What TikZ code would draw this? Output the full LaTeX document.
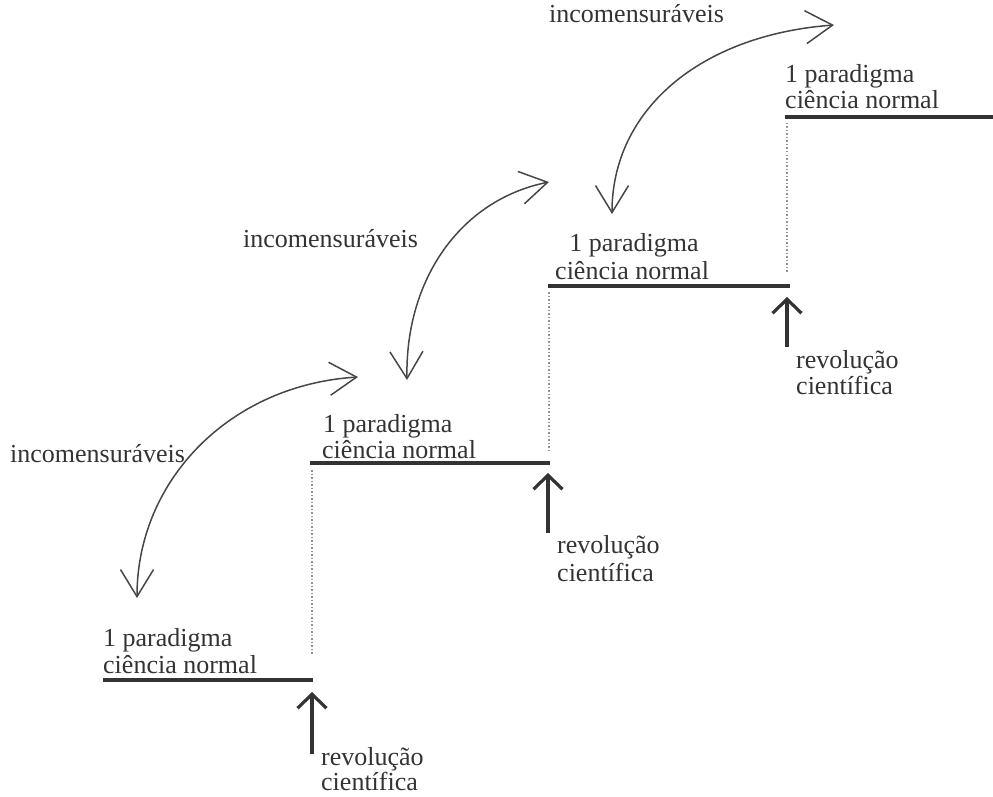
\documentclass[tikz,border=0pt]{standalone}
\usepackage{fontspec}
\setmainfont{Liberation Serif}
\usetikzlibrary{arrows.meta}
\definecolor{ink}{HTML}{333333}
\begin{document}
\begin{tikzpicture}[x=1pt,y=-1pt,
  lbl/.style={anchor=base west,inner sep=0pt,text=ink,font=\fontsize{26}{28}\selectfont},
  clbl/.style={anchor=base,inner sep=0pt,text=ink,font=\fontsize{26}{28}\selectfont},
  stepline/.style={draw=ink,line width=3.4pt},
  guide/.style={draw=gray!85,line width=1.5pt,dotted},
  revarrow/.style={draw=ink,line width=3.2pt,-{Straight Barb[length=14pt,width=29pt]}},
  jump/.style={draw=ink!90,line width=1.5pt,{Straight Barb[length=27pt,width=33pt]}-{Straight Barb[length=27pt,width=33pt]}}]
\useasboundingbox (0,0) rectangle (993,797);

% step 1
\node[lbl] (p1a) at (103,646) {1 paradigma};
\node[lbl] (p1b) at (103,673) {ciência normal};
\coordinate (s1l) at (103,680); \coordinate (s1r) at (313,680);
\draw[stepline] (s1l) -- (s1r);
\coordinate (a1t) at (312,692); \coordinate (a1b) at (312,754);
\draw[revarrow] (a1b) -- (a1t);
\node[lbl] (r1a) at (321,765) {revolução};
\node[lbl] (r1b) at (321,790) {científica};

% step 2
\node[lbl] (p2a) at (323,432) {1 paradigma};
\node[lbl] (p2b) at (322,458) {ciência normal};
\coordinate (s2l) at (310,463); \coordinate (s2r) at (550,463);
\draw[stepline] (s2l) -- (s2r);
\coordinate (a2t) at (548,473); \coordinate (a2b) at (548,533);
\draw[revarrow] (a2b) -- (a2t);
\node[lbl] (r2a) at (557,553) {revolução};
\node[lbl] (r2b) at (557,581) {científica};
\coordinate (g1t) at (312,470); \coordinate (g1b) at (312,655);
\draw[guide] (g1t) -- (g1b);

% step 3
\node[clbl] (p3a) at (634,251) {1 paradigma};
\node[lbl] (p3b) at (555,279) {ciência normal};
\coordinate (s3l) at (548,286); \coordinate (s3r) at (790,286);
\draw[stepline] (s3l) -- (s3r);
\coordinate (a3t) at (787,297); \coordinate (a3b) at (787,347);
\draw[revarrow] (a3b) -- (a3t);
\node[lbl] (r3a) at (796,368) {revolução};
\node[lbl] (r3b) at (796,394) {científica};
\coordinate (g2t) at (549,292); \coordinate (g2b) at (549,452);
\draw[guide] (g2t) -- (g2b);

% step 4
\node[lbl] (p4a) at (785,83) {1 paradigma};
\node[lbl] (p4b) at (785,109) {ciência normal};
\coordinate (s4l) at (785,117); \coordinate (s4r) at (993,117);
\draw[stepline] (s4l) -- (s4r);
\coordinate (g3t) at (787,123); \coordinate (g3b) at (787,272);
\draw[guide] (g3t) -- (g3b);

% incommensurability arrows
\node[lbl] (i1) at (10,462) {incomensuráveis};
\node[lbl] (i2) at (243,247) {incomensuráveis};
\node[lbl] (i3) at (549,23) {incomensuráveis};
\coordinate (c1a) at (137,598); \coordinate (c1b) at (358,377);
\coordinate (c2a) at (407,380); \coordinate (c2b) at (549,182);
\coordinate (c3a) at (612,214); \coordinate (c3b) at (834,25);
\draw[jump] (c1a) .. controls (137,480) and (230,385) .. (c1b);
\draw[jump] (c2a) .. controls (405,280) and (460,200) .. (c2b);
\draw[jump] (c3a) .. controls (612,110) and (700,35) .. (c3b);
\end{tikzpicture}
\end{document}
